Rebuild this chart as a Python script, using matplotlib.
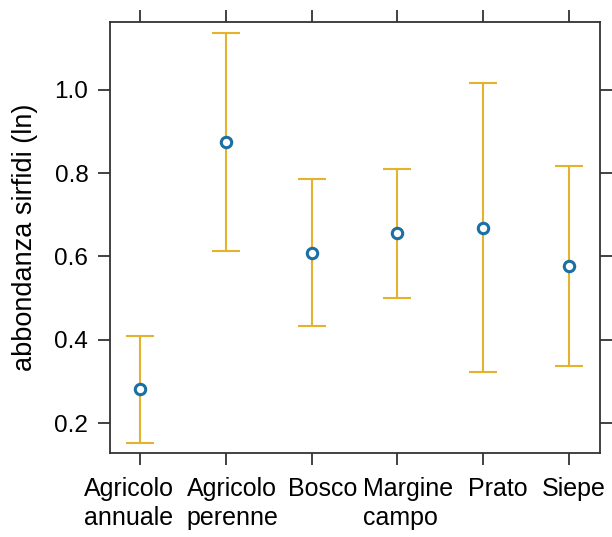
import matplotlib
matplotlib.use('Agg')
import matplotlib.pyplot as plt
import matplotlib.transforms as mtransforms
import numpy as np

categories = ['Agricolo\nannuale', 'Agricolo\nperenne', 'Bosco', 'Margine\ncampo', 'Prato', 'Siepe']
means = [0.281, 0.875, 0.608, 0.656, 0.668, 0.577]
lower = [0.152, 0.613, 0.433, 0.500, 0.322, 0.337]
upper = [0.409, 1.137, 0.786, 0.810, 1.017, 0.817]

# horizontal nudge of each category label, in pixels (as in the original)
label_shift = [-11, 7, 11, 11, 15, 5]

plt.rcParams['font.family'] = 'Liberation Sans'

fig = plt.figure(figsize=(6.12, 5.37), dpi=100)
ax = fig.add_axes([110/612, 1 - 453/537, 490/612, 431/537])

x = np.arange(1, len(categories) + 1)
means = np.array(means)
yerr = [means - np.array(lower), np.array(upper) - means]

ax.errorbar(x, means, yerr=yerr, fmt='none', ecolor='#E5B22E', elinewidth=1.5,
            capsize=10, capthick=1.5)
ax.plot(x, means, 'o', mfc='white', mec='#1B6FA3', mew=2.2, ms=7.5, zorder=3)

ax.set_xlim(0.65, 6.36)
ax.set_ylim(0.128, 1.163)
ax.set_xticks(x)
ax.set_xticklabels([])
# category labels drawn as text so each one can be nudged
for xi, lab, dx in zip(x, categories, label_shift):
    tr = ax.get_xaxis_transform() + mtransforms.ScaledTranslation(dx / 100, -17 / 72, fig.dpi_scale_trans)
    ax.text(xi, 0, lab, transform=tr, ha='center', va='top', fontsize=18,
            linespacing=1.3, multialignment='left')
ax.set_yticks([0.2, 0.4, 0.6, 0.8, 1.0])
ax.set_yticklabels(['0.2', '0.4', '0.6', '0.8', '1.0'], fontsize=17.5)
ax.tick_params(direction='out', length=8.6, width=1.3, color='#333333',
               top=True, right=True, labeltop=False, labelright=False, pad=7)
for s in ax.spines.values():
    s.set_linewidth(1.3)
    s.set_color('#333333')
ax.set_ylabel('abbondanza sirfidi (ln)', fontsize=19.5, labelpad=12)

fig.savefig('out.png', dpi=100)
